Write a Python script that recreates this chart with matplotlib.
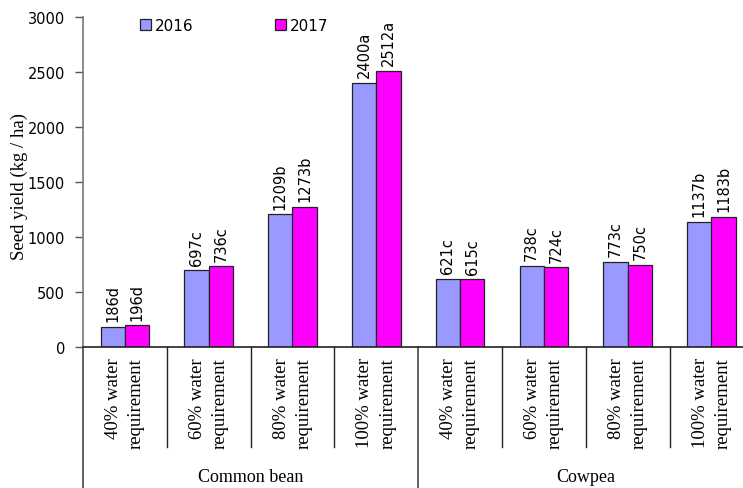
import matplotlib
matplotlib.use("Agg")
import matplotlib.pyplot as plt
import numpy as np

# data
crops = ["Common bean", "Cowpea"]
levels = ["40% water\nrequirement", "60% water\nrequirement",
          "80% water\nrequirement", "100% water\nrequirement"]
yield_2016 = [186, 697, 1209, 2400, 621, 738, 773, 1137]
yield_2017 = [196, 736, 1273, 2512, 615, 724, 750, 1183]
letters_2016 = ["d", "c", "b", "a", "c", "c", "c", "b"]
letters_2017 = ["d", "c", "b", "a", "c", "c", "c", "b"]

blue = "#9999FF"
magenta = "#FF00FF"
serif = "Liberation Serif"
sans = "DejaVu Sans"

fig = plt.figure(figsize=(7.43, 4.89), dpi=100)
W, H = 743, 489
x0, x1 = 83, 743
y0, y1 = 348, 18
ax = fig.add_axes([x0 / W, 1 - y0 / H, (x1 - x0) / W, (y0 - y1) / H])

n = len(yield_2016)
x = np.arange(n)
bw = 0.29
grp_px = 83.8

ax.bar(x - bw / 2, yield_2016, bw, color=blue, edgecolor="#222222", linewidth=0.9, label="2016")
ax.bar(x + bw / 2, yield_2017, bw, color=magenta, edgecolor="#222222", linewidth=0.9, label="2017")

for i in range(n):
    ax.text(x[i] - bw / 2, yield_2016[i] + 50, f"{yield_2016[i]}{letters_2016[i]}",
            rotation=90, ha="center", va="bottom", fontsize=10.5, family=sans)
    ax.text(x[i] + bw / 2, yield_2017[i] + 50, f"{yield_2017[i]}{letters_2017[i]}",
            rotation=90, ha="center", va="bottom", fontsize=10.5, family=sans)

ax.set_xlim(-0.5, -0.5 + (x1 - x0) / grp_px)
ax.set_ylim(0, 3000)
ax.set_yticks(np.arange(0, 3001, 500))
ax.tick_params(axis="y", labelsize=10.5, length=6, width=1, color="#555555",
               direction="out", pad=7)
for t in ax.get_yticklabels():
    t.set_family(sans)
ax.set_xticks([])
ax.spines["top"].set_visible(False)
ax.spines["right"].set_visible(False)
ax.spines["left"].set_color("#777777")
ax.spines["left"].set_linewidth(1.2)
ax.spines["bottom"].set_color("#222222")
ax.spines["bottom"].set_linewidth(1.2)
ax.set_ylabel("Seed yield (kg / ha)", family=serif, fontsize=13.5)
ax.yaxis.set_label_coords(-55 / (x1 - x0), 0.49)

# category axis below plot
trans = ax.get_xaxis_transform()
for k in range(n + 1):
    xb = k - 0.5
    if k % 4 == 0:
        ax.plot([xb, xb], [0, -141 / 330], transform=trans, color="#555555",
                lw=1.3, clip_on=False)
    else:
        ax.plot([xb, xb], [0, -100 / 330], transform=trans, color="#222222",
                lw=1.0, clip_on=False)
for i in range(n):
    ax.text(x[i], -10 / 330, levels[i % 4], transform=trans, rotation=90,
            ha="center", va="top", fontsize=13.5, family=serif,
            linespacing=1.45, multialignment="right")
for j, name in enumerate(crops):
    ax.text(j * 4 + 1.5, -130 / 330, name, transform=trans, ha="center",
            va="center", fontsize=13, family=serif)

ax.legend(loc="upper left", bbox_to_anchor=(0.065, 1.04), ncol=2, frameon=False,
          handlelength=0.75, handleheight=0.75, handletextpad=0.25,
          columnspacing=5.3, prop={"family": sans, "size": 11})

fig.savefig("out.png", dpi=100)
